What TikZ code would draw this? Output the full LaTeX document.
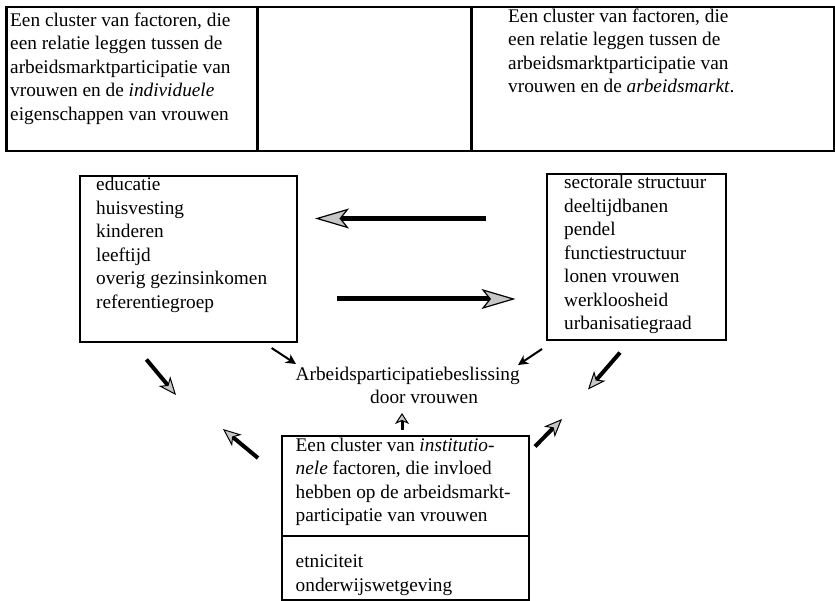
\documentclass[tikz,border=0pt]{standalone}
\usepackage{fontspec}
\setmainfont{Liberation Serif}
\usetikzlibrary{arrows.meta}

\begin{document}
\begin{tikzpicture}[x=1pt,y=-1pt,line join=miter]
\tikzstyle{cell}=[draw=black,line width=2.5pt,anchor=north west,inner sep=0pt,minimum height=144pt]
\tikzstyle{box}=[draw=black,line width=2pt,anchor=north west,inner sep=0pt]
% text blocks: placed at the baseline of their first line
\tikzstyle{txt}=[anchor=north west,yshift=16.45pt,inner sep=0pt,align=left,font=\fontsize{19.3}{23.5}\selectfont,execute at begin node=\strut]
\tikzstyle{fat}=[line width=5pt,-{Stealth[length=34pt,width=20pt,inset=8pt,fill=gray!45,line width=1.2pt]}]
\tikzstyle{mid}=[line width=4pt,-{Stealth[length=18pt,width=15pt,inset=5pt,fill=gray!45,line width=1pt]}]
\tikzstyle{small}=[line width=2pt,-{Stealth[length=10pt,width=10pt,inset=3pt]}]
\useasboundingbox (0,0) rectangle (835,601);

% top row
\node[cell,minimum width=251pt] (tleft) at (5,6) {};
\node[cell,minimum width=214pt] (tmid) at (256,6) {};
\node[cell,minimum width=363pt] (tright) at (470,6) {};
\node[txt] (tlefttext) at (10,29) {Een cluster van factoren, die\\een relatie leggen tussen de\\arbeidsmarktparticipatie van\\vrouwen en de \textit{individuele}\\eigenschappen van vrouwen};
\node[txt] (trighttext) at (508,25) {Een cluster van factoren, die\\een relatie leggen tussen de\\arbeidsmarktparticipatie van\\vrouwen en de \textit{arbeidsmarkt}.};

% middle boxes
\node[box,minimum width=216.5pt,minimum height=165.5pt] (indiv) at (79,175.5) {};
\node[txt] (indivtext) at (96,193.5) {educatie\\huisvesting\\kinderen\\leeftijd\\overig gezinsinkomen\\referentiegroep};
\node[box,minimum width=179pt,minimum height=166pt] (markt) at (546,173) {};
\node[txt] (markttext) at (564,191.5) {sectorale structuur\\deeltijdbanen\\pendel\\functiestructuur\\lonen vrouwen\\werkloosheid\\urbanisatiegraad};

\node[txt] (beslis) at (295.5,383) {Arbeidsparticipatiebeslissing\\\hspace*{74.5pt}door vrouwen};

% institutional box
\node[box,minimum width=247pt,minimum height=164pt] (inst) at (281,435) {};
\draw[line width=2pt] (inst.west |- 0,536) -- (inst.east |- 0,536);
\node[txt] (insttext) at (295.5,454) {Een cluster van \textit{institutio-}\\\textit{nele} factoren, die invloed\\hebben op de arbeidsmarkt-\\participatie van vrouwen};
\node[txt] (instlist) at (295.5,571) {etniciteit\\onderwijswetgeving};

% arrow ends
\coordinate (h1s) at (486,218.5);
\coordinate (h1e) at (315,218.5);
\coordinate (h2s) at (336.5,299);
\coordinate (h2e) at (515.5,299);
\coordinate (ls) at (271.6,348);
\coordinate (le) at (296,364);
\coordinate (rs) at (542,349);
\coordinate (re) at (518,365);
\coordinate (bls) at (146.4,359.5);
\coordinate (ble) at (176,395);
\coordinate (brs) at (620,352.6);
\coordinate (bre) at (588,389.5);
\coordinate (uls) at (258,458);
\coordinate (ule) at (223,429);
\coordinate (urs) at (535,446.5);
\coordinate (ure) at (562,419);
\coordinate (ups) at (402,430);
\coordinate (upe) at (402,413);

\draw[fat] (h1s) -- (h1e);
\draw[fat] (h2s) -- (h2e);
\draw[small] (ls) -- (le);
\draw[small] (rs) -- (re);
\draw[mid] (bls) -- (ble);
\draw[mid] (brs) -- (bre);
\draw[mid] (uls) -- (ule);
\draw[mid] (urs) -- (ure);
\draw[line width=3pt,-{Stealth[length=11pt,width=14pt,inset=3pt,fill=gray!45,line width=1pt]}] (ups) -- (upe);
\end{tikzpicture}
\end{document}
